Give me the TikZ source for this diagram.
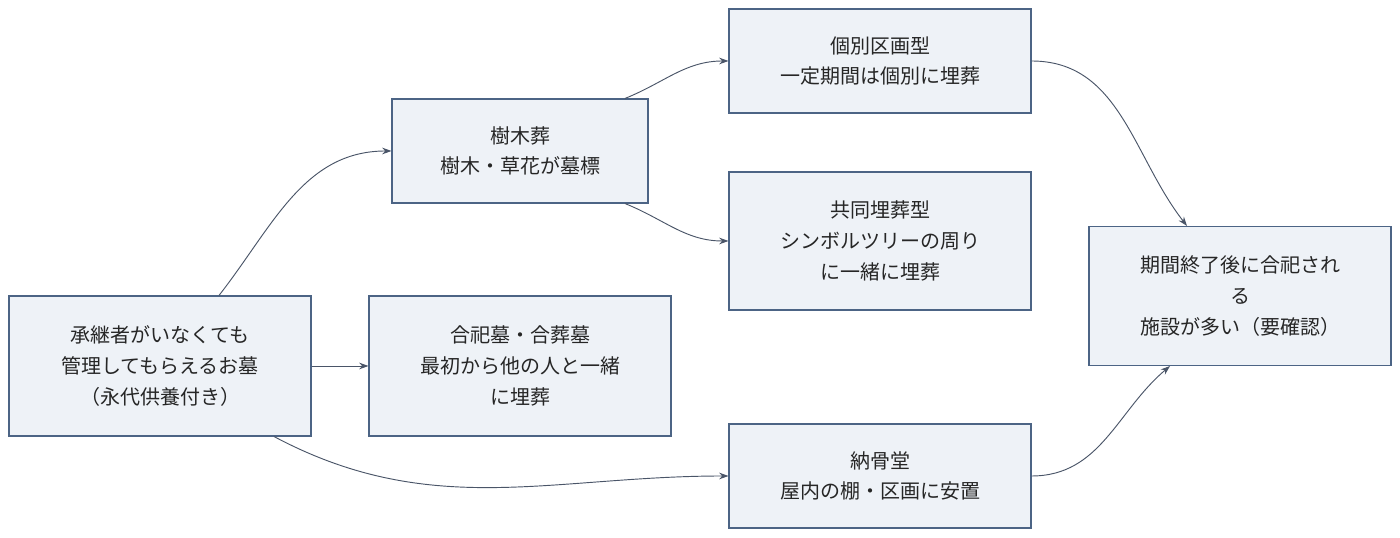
\documentclass[tikz,border=0pt]{standalone}
\usepackage{fontspec}
\setmainfont{Noto Sans CJK JP}
\usetikzlibrary{calc,arrows.meta}
\definecolor{boxfill}{HTML}{EEF2F7}
\definecolor{boxline}{HTML}{4C6485}
\definecolor{edge}{HTML}{4A5568}
\begin{document}
\begin{tikzpicture}[x=0.75pt,y=0.75pt,
  box/.style={draw=boxline,fill=boxfill,line width=0.8pt,align=center,inner sep=0pt,
    font=\fontsize{15}{23}\selectfont,text=black!85},
  arr/.style={draw=edge,line width=0.7pt,-{Stealth[length=7pt,width=5pt]}}]
\useasboundingbox (0,0) rectangle (1400,538);
\node[box,minimum width=226.5pt,minimum height=105pt] (A) at (160,172) {承継者がいなくても\\管理してもらえるお墓\\（永代供養付き）};
\node[box,minimum width=192pt,minimum height=78pt] (B) at (520,387) {樹木葬\\樹木・草花が墓標};
\node[box,minimum width=226.5pt,minimum height=105pt] (C) at (520,172) {合祀墓・合葬墓\\最初から他の人と一緒\\に埋葬};
\node[box,minimum width=226.5pt,minimum height=78pt] (D) at (880,477) {個別区画型\\一定期間は個別に埋葬};
\node[box,minimum width=226.5pt,minimum height=103.5pt] (E) at (880,297) {共同埋葬型\\シンボルツリーの周り\\に一緒に埋葬};
\node[box,minimum width=226.5pt,minimum height=78pt] (F) at (880,62) {納骨堂\\屋内の棚・区画に安置};
\node[box,minimum width=226.5pt,minimum height=104.25pt] (G) at (1240,242) {期間終了後に合祀され\\る\\施設が多い（要確認）};
\draw[arr] ($(A.north)+(59,0)$) to[out=52,in=180] (B.west);
\draw[arr] ($(B.north)+(105,0)$) to[out=22,in=180] (D.west);
\draw[arr] ($(B.south)+(105,0)$) to[out=-22,in=180] (E.west);
\draw[arr] (A.east) -- (C.west);
\draw[arr] ($(A.south)+(114,0)$) to[out=-28,in=180] (F.west);
\draw[arr] (D.east) to[out=0,in=128] ($(G.north)+(-53,0)$);
\draw[arr] (F.east) to[out=0,in=-140] ($(G.south)+(-70,0)$);
\end{tikzpicture}
\end{document}
